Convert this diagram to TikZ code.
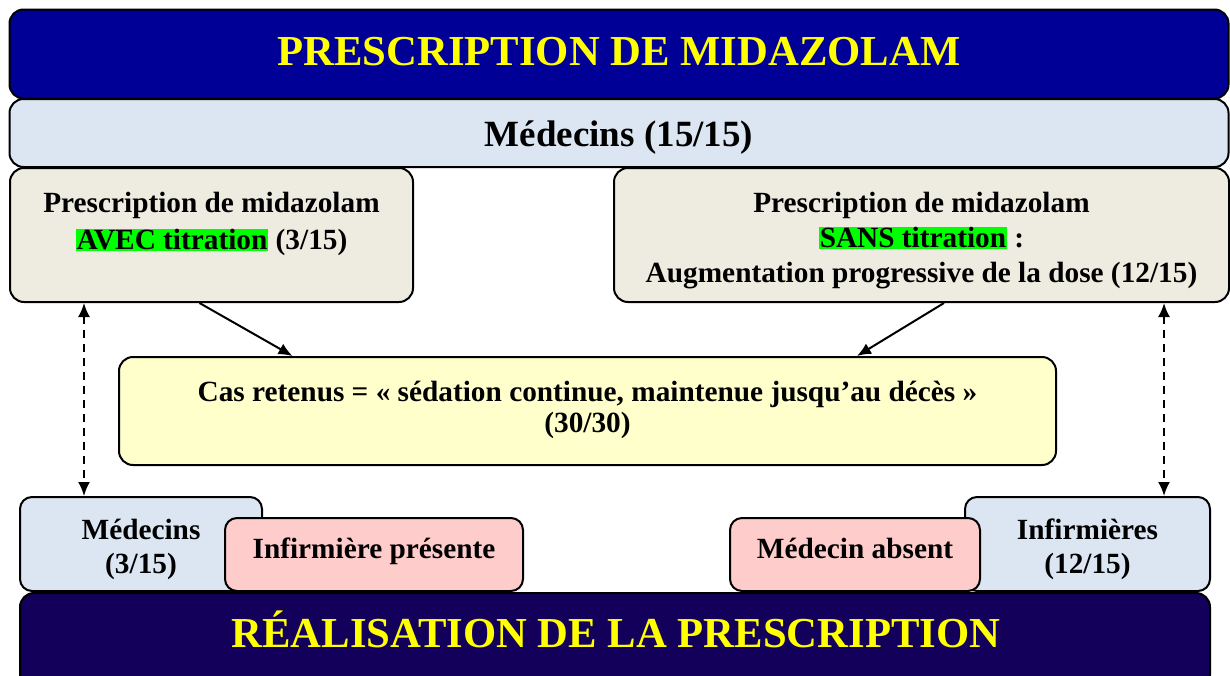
\documentclass[tikz,border=0pt]{standalone}
\usepackage{fontspec}
\setmainfont{Liberation Serif}
\usepackage{xcolor}
\usetikzlibrary{positioning, arrows.meta}

\definecolor{bleunuit}{RGB}{0,0,150}
\definecolor{violetnuit}{RGB}{18,0,90}
\definecolor{bleuclair}{RGB}{220,230,242}
\definecolor{beige}{RGB}{238,236,225}
\definecolor{jaunepale}{RGB}{255,255,204}
\definecolor{rosepale}{RGB}{255,204,204}
\definecolor{vertvif}{RGB}{0,255,0}
\definecolor{jaunevif}{RGB}{255,255,0}

\newcommand{\surligne}[1]{{\setlength{\fboxsep}{1pt}\colorbox{vertvif}{#1}}}

\begin{document}
\begin{tikzpicture}[x=1pt, y=-1pt,
    boite/.style={draw=black, line width=2pt, rounded corners=14pt, align=center, inner sep=0pt},
    bandeau/.style={boite, text=jaunevif, font=\bfseries\fontsize{42.7}{48}\selectfont},
    petite/.style={boite, rounded corners=12pt, font=\bfseries\fontsize{29.3}{34}\selectfont},
    texte/.style={align=center, font=\bfseries\fontsize{29.3}{34}\selectfont},
    fleche/.style={-{Latex[length=14pt, width=12pt]}, line width=2pt},
    pointille/.style={{Latex[length=14pt, width=12pt]}-{Latex[length=14pt, width=12pt]}, dash pattern=on 8pt off 6pt, line width=2pt}]
    \useasboundingbox (0,0) rectangle (1230,675);
    \clip (0,0) rectangle (1230,675);

    % bandeau du haut
    \node[bandeau, fill=bleunuit, minimum width=1219pt, minimum height=89pt, text depth=6pt] (titre) at (619,54) {PRESCRIPTION DE MIDAZOLAM};
    \node[boite, fill=bleuclair, minimum width=1219pt, minimum height=68pt, text height=34pt, text depth=8pt, font=\bfseries\fontsize{37}{40}\selectfont] (medecins) at (619,133) {Médecins (15/15)};

    % les deux prescriptions
    \node[boite, fill=beige, minimum width=403pt, minimum height=134pt] (avec) at (211.5,235) {};
    \node[texte, anchor=north, font=\bfseries\fontsize{29.3}{37}\selectfont] (avec-txt) at ([yshift=-22pt]avec.north) {Prescription de midazolam\\\surligne{AVEC titration} (3/15)};
    \node[boite, fill=beige, minimum width=615pt, minimum height=134pt] (sans) at (921.5,235) {};
    \node[texte, anchor=north, font=\bfseries\fontsize{29.3}{35}\selectfont] (sans-txt) at ([yshift=-22pt]sans.north) {Prescription de midazolam\\\surligne{SANS titration} :\\Augmentation progressive de la dose (12/15)};

    % cas retenus
    \node[boite, fill=jaunepale, minimum width=937pt, minimum height=108pt] (cas) at (587.5,411) {};
    \node[texte, font=\bfseries\fontsize{29.3}{31}\selectfont] (cas-txt) at ([yshift=1pt]cas.center) {Cas retenus = «~sédation continue, maintenue jusqu’au décès~»\\(30/30)};

    % en bas
    \node[petite, fill=bleuclair, minimum width=242pt, minimum height=94pt] (med-gauche) at (141,544) {};
    \node[texte] (med-gauche-txt) at ([yshift=-5pt]med-gauche.center) {Médecins\\(3/15)};
    \node[petite, fill=rosepale, minimum width=298pt, minimum height=73pt, text height=20pt, text depth=12.6pt] (inf-presente) at (374,554.5) {Infirmière présente};
    \node[petite, fill=bleuclair, minimum width=245pt, minimum height=94pt] (inf-droite) at (1087.5,544) {};
    \node[texte] (inf-droite-txt) at ([yshift=-5pt]inf-droite.center) {Infirmières\\(12/15)};
    \node[petite, fill=rosepale, minimum width=250pt, minimum height=73pt, text height=20pt, text depth=12.6pt] (med-absent) at (855,554.5) {Médecin absent};
    \node[bandeau, fill=violetnuit, minimum width=1190pt, minimum height=96pt] (realisation) at (615,641) {};
    \node[text=jaunevif, font=\bfseries\fontsize{42.7}{48}\selectfont] (realisation-txt) at (616,629) {RÉALISATION DE LA PRESCRIPTION};

    \draw[fleche] ([xshift=-12pt]avec.south) -- ([xshift=-295pt]cas.north);
    \draw[fleche] ([xshift=22.5pt]sans.south) -- ([xshift=269.5pt]cas.north);
    \draw[pointille] ([xshift=75pt]avec.south west) -- ([xshift=75pt]avec.south west |- med-gauche.north);
    \draw[pointille] ([xshift=-66pt]sans.south east) -- ([xshift=-66pt]sans.south east |- inf-droite.north);
\end{tikzpicture}
\end{document}
